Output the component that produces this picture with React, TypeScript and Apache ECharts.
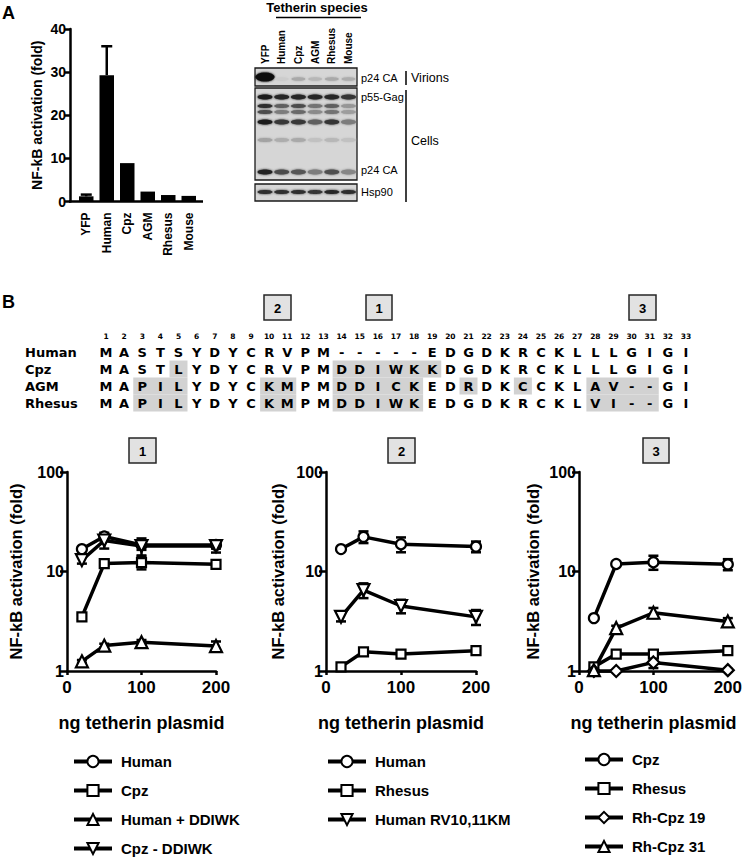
import React, { useEffect, useRef } from "react";
import * as echarts from "echarts";

// ---------- Panel A : bar chart ----------
const barCategories = ["YFP", "Human", "Cpz", "AGM", "Rhesus", "Mouse"];
const barValues = [1.2, 29.3, 8.9, 2.3, 1.5, 1.3];
const barErrors = [0.4, 6.7, 0, 0, 0, 0];

// ---------- Panel A : western blot (band intensities 0..1 per lane) ----------
const laneNames = ["YFP", "Human", "Cpz", "AGM", "Rhesus", "Mouse"];
const virionBand = [1.0, 0.04, 0.22, 0.15, 0.22, 0.2];
const gagBand = [0.95, 0.9, 0.9, 0.88, 0.9, 0.82];
const band2 = [0.85, 0.6, 0.7, 0.5, 0.6, 0.32];
const band3 = [0.7, 0.45, 0.55, 0.38, 0.5, 0.28];
const band4 = [0.95, 0.8, 0.8, 0.6, 0.82, 0.45];
const band5 = [0.25, 0.2, 0.22, 0.1, 0.15, 0.1];
const p24Band = [0.92, 0.7, 0.65, 0.45, 0.68, 0.4];
const hspBand = [0.85, 0.85, 0.85, 0.82, 0.88, 0.85];

// ---------- Panel B : alignment ----------
const alignNames = ["Human", "Cpz", "AGM", "Rhesus"];
const alignSeqs = [
  "MASTSYDYCRVPM-----EDGDKRCKLLLGIGI",
  "MASTLYDYCRVPMDDIWKKDGDKRCKLLLGIGI",
  "MAPILYDYCKMPMDDICKEDRDKCCKLAV--GI",
  "MAPILYDYCKMPMDDIWKEDGDKRCKLVI--GI",
];
// [row, first position, last position]
const highlights = [
  [1, 5, 5], [1, 14, 19],
  [2, 3, 5], [2, 10, 11], [2, 14, 18], [2, 21, 21], [2, 24, 24], [2, 28, 31],
  [3, 3, 5], [3, 10, 11], [3, 14, 18], [3, 28, 31],
];
const regionLabels = ["2", "1", "3"];

// ---------- Panel B : dose response ----------
const doses = [20, 50, 100, 200];
const plotTitles = ["1", "2", "3"];

const p1Human = [16.8, 22.5, 18.5, 18.5];
const p1HumanErr = [0.8, 2.0, 2.0, 1.5];
const p1Cpz = [3.5, 12.0, 12.3, 11.8];
const p1CpzErr = [0.2, 0.6, 1.8, 1.0];
const p1HumanPlus = [1.25, 1.8, 1.95, 1.78];
const p1HumanPlusErr = [0.04, 0.08, 0.1, 0.2];
const p1CpzMinus = [13.0, 20.5, 18.0, 18.0];
const p1CpzMinusErr = [1.0, 3.5, 3.5, 2.5];

const p2Human = [16.8, 22.3, 18.8, 17.8];
const p2HumanErr = [0.6, 3.0, 3.2, 2.2];
const p2Rhesus = [1.1, 1.56, 1.48, 1.6];
const p2RhesusErr = [0.02, 0.05, 0.04, 0.08];
const p2HumanRV = [3.5, 6.5, 4.5, 3.5];
const p2HumanRVErr = [0.35, 1.1, 0.7, 0.6];

const p3Cpz = [3.4, 11.9, 12.4, 11.8];
const p3CpzErr = [0.1, 0.3, 2.0, 1.5];
const p3Rhesus = [1.1, 1.48, 1.48, 1.6];
const p3RhesusErr = [0.03, 0.05, 0.05, 0.1];
const p3Rh19 = [1.0, 1.0, 1.22, 1.02];
const p3Rh19Err = [0, 0, 0.15, 0.03];
const p3Rh31 = [1.02, 2.7, 3.85, 3.15];
const p3Rh31Err = [0.02, 0.15, 0.45, 0.25];

const FONT = "'Liberation Sans', Arial, Helvetica, sans-serif";
const VERD = "'DejaVu Sans', Verdana, sans-serif";

type Spec = { name: string; values: number[]; errors: number[]; symbol: string; size: number; rotate?: number };

const plotSpecs: Spec[][] = [
  [
    { name: "Human|1", values: p1Human, errors: p1HumanErr, symbol: "circle", size: 10 },
    { name: "Cpz|1", values: p1Cpz, errors: p1CpzErr, symbol: "rect", size: 9 },
    { name: "Human + DDIWK|1", values: p1HumanPlus, errors: p1HumanPlusErr, symbol: "triangle", size: 12 },
    { name: "Cpz - DDIWK|1", values: p1CpzMinus, errors: p1CpzMinusErr, symbol: "triangle", size: 12, rotate: 180 },
  ],
  [
    { name: "Human|2", values: p2Human, errors: p2HumanErr, symbol: "circle", size: 10 },
    { name: "Rhesus|2", values: p2Rhesus, errors: p2RhesusErr, symbol: "rect", size: 9 },
    { name: "Human RV10,11KM|2", values: p2HumanRV, errors: p2HumanRVErr, symbol: "triangle", size: 12, rotate: 180 },
  ],
  [
    { name: "Cpz|3", values: p3Cpz, errors: p3CpzErr, symbol: "circle", size: 10 },
    { name: "Rhesus|3", values: p3Rhesus, errors: p3RhesusErr, symbol: "rect", size: 9 },
    { name: "Rh-Cpz 19|3", values: p3Rh19, errors: p3Rh19Err, symbol: "diamond", size: 12 },
    { name: "Rh-Cpz 31|3", values: p3Rh31, errors: p3Rh31Err, symbol: "triangle", size: 12 },
  ],
];

function errorRender(capW: number, bothCaps: boolean) {
  return (_p: any, api: any) => {
    const x = api.value(0);
    const lo = api.value(1);
    const hi = api.value(2);
    const a = api.coord([x, lo]);
    const b = api.coord([x, hi]);
    const st = { stroke: "#000", lineWidth: 2.5, fill: "none" };
    const ch: any[] = [
      { type: "line", shape: { x1: a[0], y1: a[1], x2: b[0], y2: b[1] }, style: st },
      { type: "line", shape: { x1: b[0] - capW / 2, y1: b[1], x2: b[0] + capW / 2, y2: b[1] }, style: st },
    ];
    if (bothCaps) ch.push({ type: "line", shape: { x1: a[0] - capW / 2, y1: a[1], x2: a[0] + capW / 2, y2: a[1] }, style: st });
    return { type: "group", children: ch };
  };
}

function txt(x: number, y: number, text: string, o: any = {}, rotation = 0) {
  return {
    type: "text", x, y, rotation, silent: true,
    style: { text, fill: "#000", fontFamily: FONT, fontSize: 12, fontWeight: "bold", align: "left", verticalAlign: "middle", ...o },
  };
}

function boxLabel(x: number, y: number, w: number, h: number, label: string) {
  return [
    { type: "rect", shape: { x, y, width: w, height: h }, style: { fill: "#e2e2e2", stroke: "#262626", lineWidth: 1.5 } },
    txt(x + w / 2, y + h / 2 + 0.5, label, { align: "center", fontSize: 13 }),
  ];
}

function buildGraphic() {
  const g: any[] = [];
  g.push(txt(2, 13, "A", { fontSize: 18 }));
  g.push(txt(2, 302, "B", { fontSize: 18 }));

  // panel A bar chart x axis line (spans past the category band)
  g.push({ type: "line", shape: { x1: 69, y1: 201.5, x2: 203, y2: 201.5 }, style: { stroke: "#000", lineWidth: 2.5 } });

  // ---- western blot ----
  const laneX = (i: number) => 265 + i * 16.7;
  g.push(txt(317, 7, "Tetherin species", { align: "center", fontSize: 13 }));
  g.push({ type: "line", shape: { x1: 276, y1: 17.5, x2: 361, y2: 17.5 }, style: { stroke: "#000", lineWidth: 1.5 } });
  laneNames.forEach((n, i) => g.push(txt(laneX(i), 64, n, { fontSize: 10 }, Math.PI / 2)));
  const boxes = [[68, 18], [88, 92], [184, 17]];
  boxes.forEach(([y, h]) =>
    g.push({ type: "rect", shape: { x: 255, y, width: 102, height: h }, style: { fill: "#d6d6d6", stroke: "#1a1a1a", lineWidth: 1.3 } })
  );
  const shade = (v: number) => {
    const c = Math.round(212 - 195 * v);
    return `rgb(${c},${c},${c})`;
  };
  const bandRows: [number[], number, number][] = [
    [gagBand, 97, 5], [band2, 106, 4], [band3, 112, 4], [band4, 122, 5], [band5, 140, 4], [p24Band, 172, 5], [hspBand, 192, 4],
  ];
  bandRows.forEach(([vals, y, h]) =>
    vals.forEach((v, i) =>
      g.push({ type: "ellipse", shape: { cx: laneX(i), cy: y, rx: 7.5, ry: h / 2 }, style: { fill: shade(v), shadowBlur: 2, shadowColor: shade(v) } })
    )
  );
  virionBand.forEach((v, i) => {
    const big = i === 0;
    g.push({ type: "ellipse", shape: { cx: laneX(i), cy: big ? 77 : 79, rx: big ? 9.5 : 7, ry: big ? 4.5 : 1.8 }, style: { fill: shade(v), shadowBlur: 2, shadowColor: shade(v) } });
  });
  g.push(txt(361, 78, "p24 CA", { fontSize: 11, fontWeight: "normal" }));
  g.push(txt(361, 97, "p55-Gag", { fontSize: 11, fontWeight: "normal" }));
  g.push(txt(361, 170, "p24 CA", { fontSize: 11, fontWeight: "normal" }));
  g.push(txt(361, 192, "Hsp90", { fontSize: 11, fontWeight: "normal" }));
  g.push({ type: "line", shape: { x1: 406, y1: 71, x2: 406, y2: 85 }, style: { stroke: "#000", lineWidth: 1.5 } });
  g.push({ type: "line", shape: { x1: 406, y1: 90, x2: 406, y2: 202 }, style: { stroke: "#000", lineWidth: 1.5 } });
  g.push(txt(411, 78, "Virions", { fontSize: 12.5, fontWeight: "normal" }));
  g.push(txt(411, 141, "Cells", { fontSize: 12.5, fontWeight: "normal" }));

  // ---- alignment ----
  const colX = (p: number) => 106 + (p - 1) * 18.125;
  const rowY = (r: number) => 352 + r * 17;
  highlights.forEach(([r, a, b]) =>
    g.push({ type: "rect", shape: { x: colX(a) - 9, y: rowY(r) - 8.5, width: colX(b) - colX(a) + 18, height: 17 }, style: { fill: "#d2d2d2" } })
  );
  for (let p = 1; p <= alignSeqs[0].length; p++) g.push(txt(colX(p), 336, String(p), { align: "center", fontFamily: VERD, fontSize: 7.5 }));
  alignNames.forEach((n, r) => {
    g.push(txt(25, rowY(r), n, { fontFamily: VERD, fontSize: 13 }));
    alignSeqs[r].split("").forEach((ch, k) => g.push(txt(colX(k + 1), rowY(r), ch, { align: "center", fontFamily: VERD, fontSize: 13 })));
  });
  g.push(...boxLabel(264, 295, 27, 25, regionLabels[0]));
  g.push(...boxLabel(366, 295, 26, 25, regionLabels[1]));
  g.push(...boxLabel(629, 295, 27, 25, regionLabels[2]));

  // ---- plot title boxes ----
  g.push(...boxLabel(129, 438, 27, 25, plotTitles[0]));
  g.push(...boxLabel(388, 438, 27, 25, plotTitles[1]));
  g.push(...boxLabel(643, 438, 26, 25, plotTitles[2]));
  return g;
}

function buildOption() {
  const axisLineStyle = { color: "#000", width: 2.5 };
  const plotGrids = [
    { left: 67, top: 472, width: 149, height: 199 },
    { left: 326, top: 472, width: 150, height: 199 },
    { left: 579, top: 472, width: 151, height: 199 },
  ];
  const yNameGaps = [43, 40, 38];
  const legendLefts = [72, 326, 583];
  const legendTops = [754, 754, 752];

  const xAxes: any[] = [
    {
      type: "category", gridIndex: 0, data: barCategories,
      axisLine: { show: false }, axisTick: { show: false },
      axisLabel: { rotate: 90, margin: 11, fontSize: 12, fontWeight: "bold", color: "#000", fontFamily: FONT },
    },
  ];
  const yAxes: any[] = [
    {
      type: "value", gridIndex: 0, min: 0, max: 40, interval: 10, offset: 6,
      axisLine: { show: true, lineStyle: axisLineStyle },
      axisTick: { show: true, length: 5, lineStyle: axisLineStyle },
      splitLine: { show: false },
      axisLabel: { fontSize: 14, fontWeight: "bold", color: "#000", margin: 4, fontFamily: FONT },
      name: "NF-kB activation (fold)", nameLocation: "middle", nameRotate: 90, nameGap: 26,
      nameTextStyle: { fontSize: 14, fontWeight: "bold", color: "#000", fontFamily: FONT },
    },
  ];
  const series: any[] = [
    { type: "bar", xAxisIndex: 0, yAxisIndex: 0, data: barValues, barWidth: 14.5, itemStyle: { color: "#000" }, silent: true },
    {
      type: "custom", xAxisIndex: 0, yAxisIndex: 0, silent: true,
      renderItem: errorRender(11, false),
      encode: { x: 0, y: [1, 2] },
      data: barValues.map((v, i) => [i, v, v + barErrors[i]]).filter((_, i) => barErrors[i] > 0),
    },
  ];
  const legends: any[] = [];

  plotSpecs.forEach((specs, k) => {
    const ai = k + 1;
    xAxes.push({
      type: "value", gridIndex: ai, min: 0, max: 200, interval: 100,
      axisLine: { show: true, onZero: false, lineStyle: axisLineStyle },
      axisTick: { show: true, length: 4, lineStyle: axisLineStyle },
      splitLine: { show: false },
      axisLabel: { fontSize: 17, fontWeight: "bold", color: "#000", margin: 8, fontFamily: FONT },
      name: "ng tetherin plasmid", nameLocation: "middle", nameGap: 43,
      nameTextStyle: { fontSize: 18, fontWeight: "bold", color: "#000", fontFamily: FONT },
    });
    yAxes.push({
      type: "log", logBase: 10, gridIndex: ai, min: 1, max: 100,
      axisLine: { show: true, onZero: false, lineStyle: axisLineStyle },
      axisTick: { show: true, length: 7, lineStyle: axisLineStyle },
      minorTick: { show: false }, splitLine: { show: false },
      axisLabel: { fontSize: 16, fontWeight: "bold", color: "#000", margin: 3, fontFamily: FONT },
      name: "NF-kB activation (fold)", nameLocation: "middle", nameRotate: 90, nameGap: yNameGaps[k],
      nameTextStyle: { fontSize: 16.5, fontWeight: "bold", color: "#000", fontFamily: FONT },
    });
    specs.forEach((s) => {
      series.push({
        type: "custom", xAxisIndex: ai, yAxisIndex: ai, z: 1, silent: true,
        renderItem: errorRender(10, true),
        encode: { x: 0, y: [1, 2] },
        data: doses.map((d, i) => [d, s.values[i] - s.errors[i], s.values[i] + s.errors[i]]).filter((_, i) => s.errors[i] > 0),
      });
    });
    specs.forEach((s) => {
      series.push({
        type: "line", name: s.name, xAxisIndex: ai, yAxisIndex: ai, z: 3, clip: false, silent: true,
        data: doses.map((d, i) => [d, s.values[i]]),
        symbol: s.symbol, symbolSize: s.size, symbolRotate: s.rotate || 0, showAllSymbol: true,
        lineStyle: { color: "#000", width: 3.5 },
        itemStyle: { color: "#fff", borderColor: "#000", borderWidth: 2.2 },
        emphasis: { disabled: true },
      });
    });
    legends.push({
      data: specs.map((s) => s.name), orient: "vertical", left: legendLefts[k], top: legendTops[k], height: 110,
      padding: 0, itemWidth: 38, itemHeight: 14, itemGap: 14, selectedMode: false,
      formatter: (n: string) => n.split("|")[0],
      textStyle: { fontFamily: FONT, fontWeight: "bold", fontSize: 15, color: "#000", padding: [0, 0, 0, 4] },
      lineStyle: { width: 4, color: "#000" },
      itemStyle: { color: "#fff", borderColor: "#000", borderWidth: 2 },
    });
  });

  return {
    animation: false,
    backgroundColor: "#fff",
    grid: [{ left: 76, top: 29, width: 123, height: 172.5 }, ...plotGrids],
    xAxis: xAxes,
    yAxis: yAxes,
    series,
    legend: legends,
    graphic: { elements: buildGraphic() },
  };
}

export default function App() {
  const ref = useRef<HTMLDivElement>(null);
  useEffect(() => {
    document.body.style.margin = "0";
    const chart = echarts.init(ref.current as HTMLDivElement, null, { renderer: "svg" });
    chart.setOption(buildOption() as any);
    return () => chart.dispose();
  }, []);
  return <div ref={ref} style={{ width: 745, height: 859, position: "absolute", left: 0, top: 0 }} />;
}
